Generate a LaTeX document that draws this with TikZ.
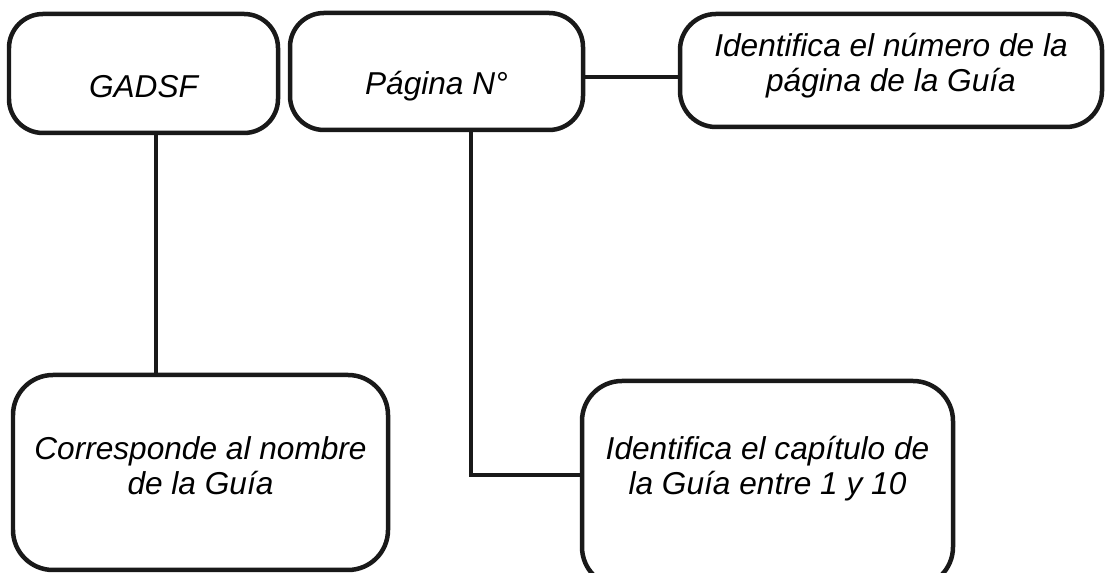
\documentclass[tikz,border=0pt]{standalone}
\usepackage{fontspec}
\setmainfont{Liberation Sans}
\usepackage{tikz}
\tikzset{
	guia box/.style={draw=black!90,line width=3.2pt,rounded corners=#1,fill=white,
		inner sep=2pt,align=center,text depth=0cm,font=\fontsize{22.5}{25}\selectfont\itshape},
	guia box/.default=.85cm,
	guia link/.style={draw=black!90,line width=3.2pt},
}

\begin{document}
\begin{tikzpicture}
		\useasboundingbox (0,0) rectangle (27.675,14.325);
		\node[guia box,minimum width=6.725cm,minimum height=2.975cm,text height=1.225cm] (gadsf) at (3.5875,12.4875) {GADSF};
		\node[guia box,minimum width=7.325cm,minimum height=2.925cm,text height=1.175cm] (pagina) at (10.9125,12.5375) {Página N°};
		\node[guia box=.9cm,minimum width=10.55cm,minimum height=2.825cm,text height=1.075cm] (numero) at (22.275,12.5625) {Identifica el número de la\\ página de la Guía};
		\node[guia box=1cm,minimum width=9.375cm,minimum height=4.875cm,text height=1.125cm] (corresponde) at (5.0125,2.5125) {Corresponde al nombre\\ de la Guía};
		\node[guia box=1cm,minimum width=9.275cm,minimum height=5.15cm,text height=.55cm] (capitulo) at (19.1875,2.225) {Identifica el capítulo de\\ la Guía entre 1 y 10};
		\draw[guia link] ([xshift=.3125cm]gadsf.south) coordinate (g1) -- (g1 |- corresponde.north);
		\draw[guia link] ([yshift=-.14cm]pagina.east) coordinate (p1) -- (p1 -| numero.west);
		\draw[guia link] ([xshift=.8625cm]pagina.south) |- ([yshift=.225cm]capitulo.west);
	\end{tikzpicture}
\end{document}
